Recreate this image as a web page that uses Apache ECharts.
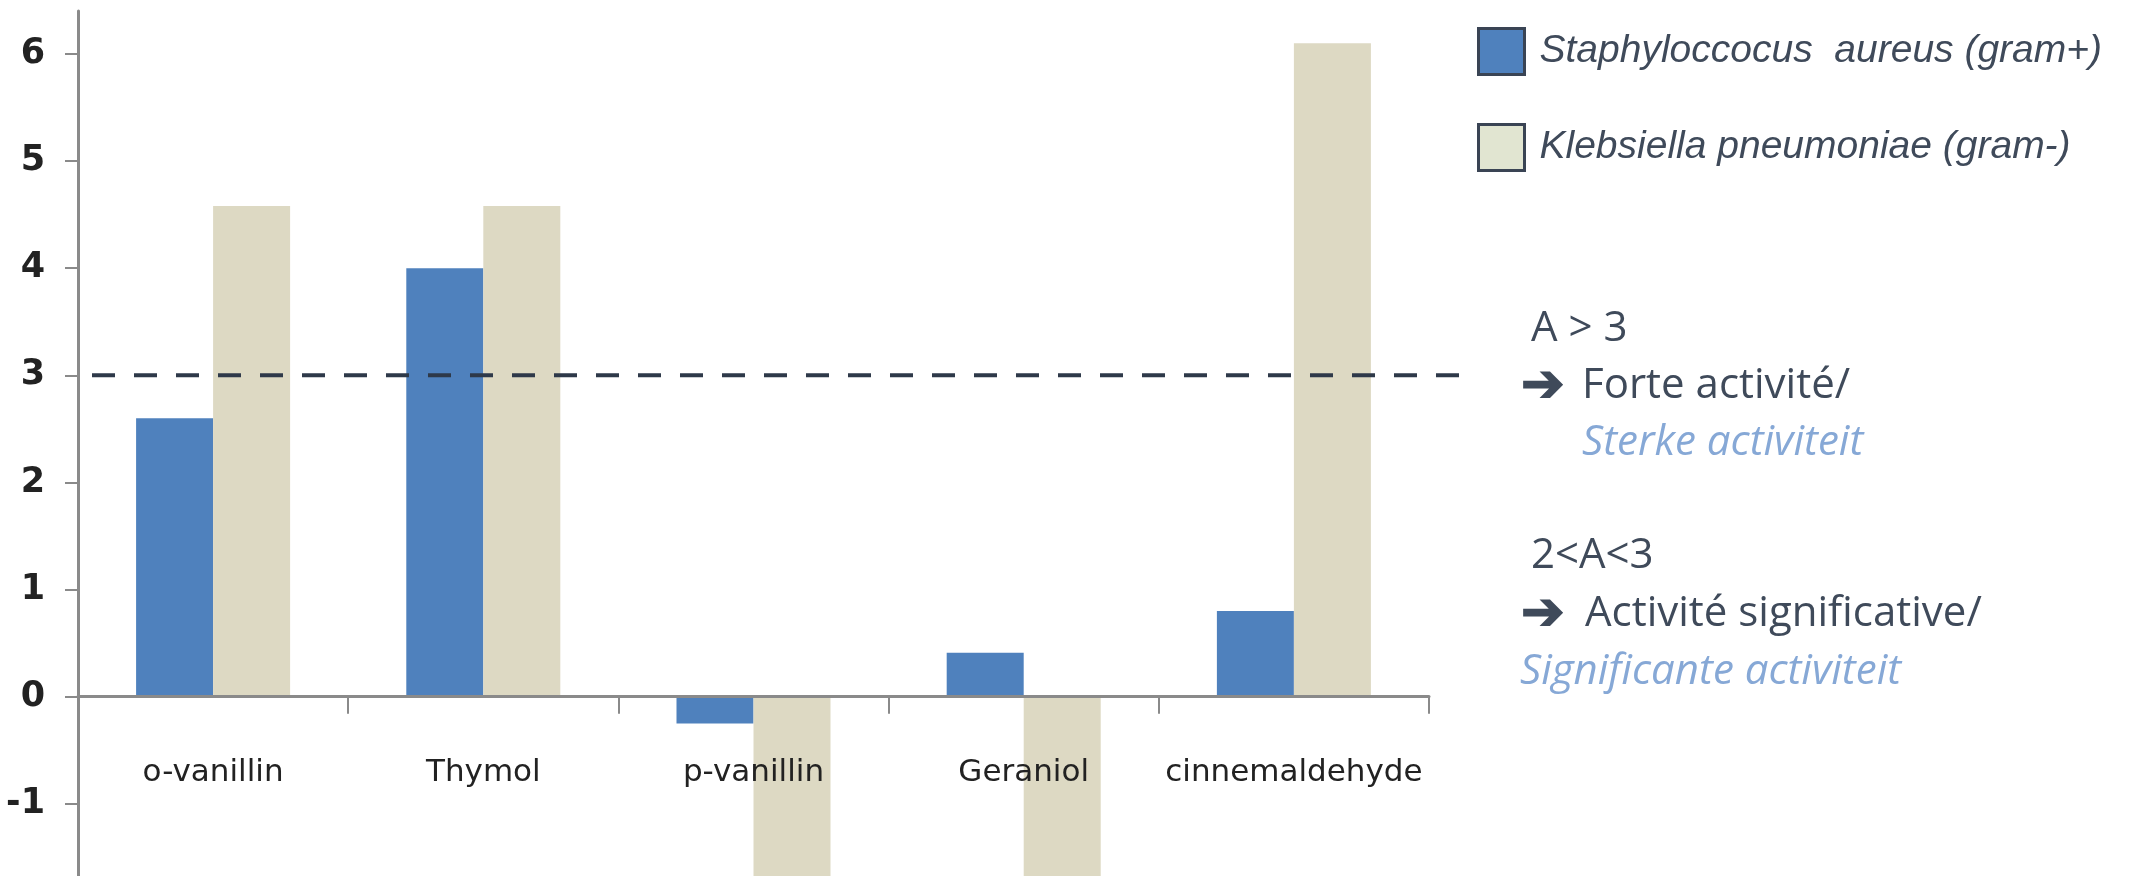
<!DOCTYPE html>
<html>
<head>
<meta charset="utf-8">
<script src="https://cdn.jsdelivr.net/npm/echarts@6/dist/echarts.min.js"></script>
<style>
html,body{margin:0;padding:0;background:#fff;}
#main{width:2134px;height:876px;}
</style>
</head>
<body>
<div id="main"></div>
<script>
var categories = ['o-vanillin', 'Thymol', 'p-vanillin', 'Geraniol', 'cinnemaldehyde'];
var staphValues = [2.6, 4.0, -0.25, 0.41, 0.8];
var klebValues = [4.58, 4.58, -2.6, -2.6, 6.1];
var yTicks = [-1, 0, 1, 2, 3, 4, 5, 6];
var threshold = 3;
var seriesNames = ['Staphyloccocus  aureus (gram+)', 'Klebsiella pneumoniae (gram-)'];

var textDark = '#3f4a5a';
var textBlue = '#86a8d6';
var noteFont = '"Open Sans", "Noto Sans", sans-serif';
var gridTop = 11, gridHeight = 900;

var myChart = echarts.init(document.getElementById('main'));
myChart.setOption({
    backgroundColor: '#fff',
    animation: false,
    grid: { left: 78, right: 705, top: gridTop, height: gridHeight, containLabel: false, outerBoundsMode: 'none' },
    legend: {
        orient: 'vertical',
        left: 1472,
        top: 22,
        itemWidth: 46,
        itemHeight: 46,
        itemGap: 47,
        icon: 'rect',
        data: [
            { name: seriesNames[0], itemStyle: { color: '#4f81bd' } },
            { name: seriesNames[1], itemStyle: { color: '#e1e5d1' } }
        ],
        textStyle: {
            color: textDark,
            fontStyle: 'italic',
            fontFamily: '"Liberation Sans", Arial, sans-serif',
            fontSize: 39,
            padding: [0, 0, 0, 10]
        },
        itemStyle: { borderColor: '#3a4454', borderWidth: 3 }
    },
    xAxis: {
        type: 'category',
        data: categories,
        z: 5,
        axisLine: { onZero: false, lineStyle: { color: '#8a8a8a', width: 3 } },
        axisTick: { show: true, interval: 0, length: 17, lineStyle: { color: '#8a8a8a', width: 2 } },
        axisLabel: {
            interval: 0,
            margin: 61,
            color: '#222',
            fontFamily: '"DejaVu Sans", Verdana, sans-serif',
            fontSize: 31
        }
    },
    yAxis: {
        type: 'value',
        min: -2,
        max: 6.4,
        splitLine: { show: false },
        axisLine: { show: true, lineStyle: { color: '#8a8a8a', width: 3 } },
        axisTick: { show: true, length: 13, customValues: yTicks, lineStyle: { color: '#8a8a8a', width: 2 } },
        axisLabel: {
            customValues: yTicks,
            margin: 33,
            color: '#222',
            fontWeight: 'bold',
            fontFamily: '"DejaVu Sans", Verdana, sans-serif',
            fontSize: 35
        }
    },
    series: [
        {
            name: seriesNames[0],
            type: 'bar',
            data: staphValues,
            barGap: '0%',
            barCategoryGap: '43%',
            itemStyle: { color: '#4f81bd' }
        },
        {
            name: seriesNames[1],
            type: 'bar',
            data: klebValues,
            itemStyle: { color: '#ddd9c3' }
        }
    ]
});

// move the category axis (line, ticks and labels) up to y = 0
var zeroY = myChart.convertToPixel({ yAxisIndex: 0 }, 0);
var yLine = myChart.convertToPixel({ yAxisIndex: 0 }, threshold);

function note(text, x, y, color, italic, size, bold) {
    return {
        type: 'text',
        x: x,
        y: y,
        style: {
            text: text,
            fill: color,
            fontSize: size || 42,
            fontWeight: bold ? 'bold' : 'normal',
            fontFamily: noteFont,
            fontStyle: italic ? 'italic' : 'normal',
            verticalAlign: 'middle'
        }
    };
}

myChart.setOption({
    xAxis: { offset: zeroY - (gridTop + gridHeight) },
    graphic: [
        {
            type: 'line',
            shape: { x1: 92, y1: yLine, x2: 1462, y2: yLine },
            style: { stroke: '#2e3949', lineWidth: 4, lineDash: [23, 19] },
            z: 10
        },
        note('A > 3', 1531, 329, textDark, false),
        note('\u2794', 1521, 386, textDark, false, 52, true),
        note('Forte activité/', 1582, 386, textDark, false),
        note('Sterke activiteit', 1582, 443, textBlue, true),
        note('2<A<3', 1531, 556, textDark, false),
        note('\u2794', 1521, 614, textDark, false, 52, true),
        note('Activité significative/', 1585, 614, textDark, false),
        note('Significante activiteit', 1520, 672, textBlue, true)
    ]
});
</script>
</body>
</html>
